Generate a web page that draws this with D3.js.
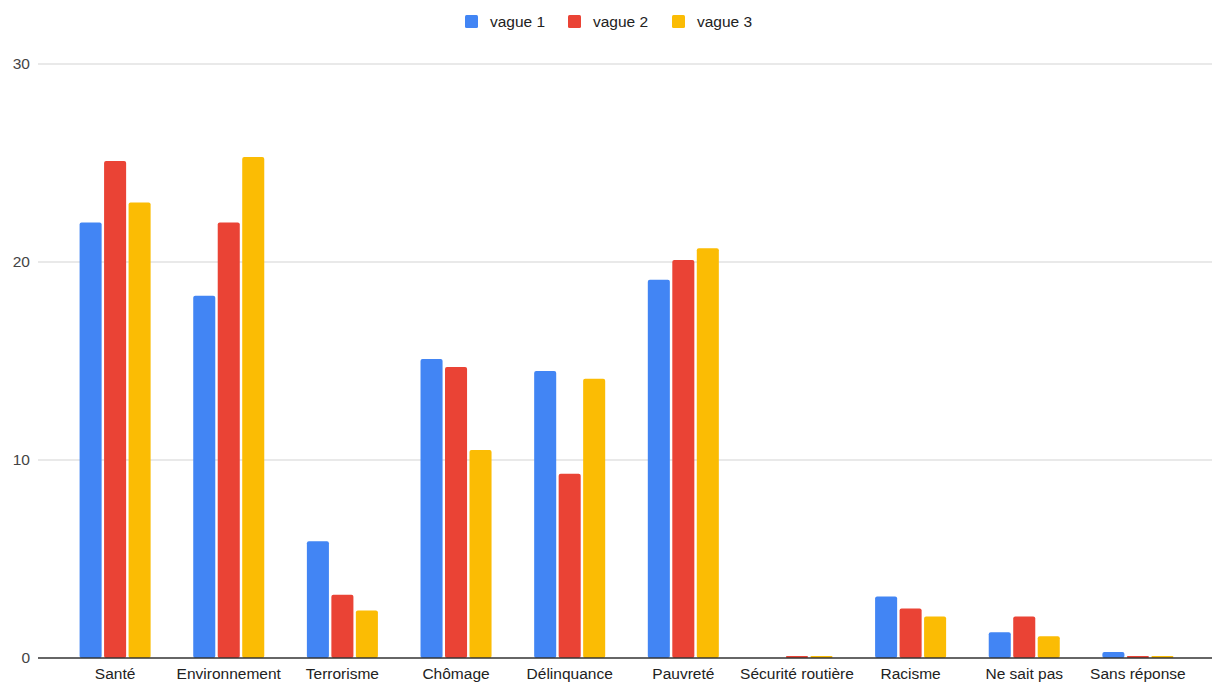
<!DOCTYPE html>
<html><head><meta charset="utf-8">
<script src="https://cdn.jsdelivr.net/npm/d3@7"></script>
<style>body{margin:0;background:#fff;font-family:"Liberation Sans",Arial,sans-serif}</style>
</head><body><svg id="c" width="1214" height="682"></svg>
<script>
const categories = ["Santé","Environnement","Terrorisme","Chômage","Délinquance","Pauvreté","Sécurité routière","Racisme","Ne sait pas","Sans réponse"];
const seriesNames = ["vague 1","vague 2","vague 3"];
const vague1 = [22, 18.3, 5.9, 15.1, 14.5, 19.1, 0, 3.1, 1.3, 0.3];
const vague2 = [25.1, 22, 3.2, 14.7, 9.3, 20.1, 0.1, 2.5, 2.1, 0.1];
const vague3 = [23, 25.3, 2.4, 10.5, 14.1, 20.7, 0.1, 2.1, 1.1, 0.1];
const yTicks = [0, 10, 20, 30];
const colors = ["#4285F4", "#EA4335", "#FBBC04"];
const series = [vague1, vague2, vague3];

const svg = d3.select("#c");
const x = d3.scaleBand().domain(categories).range([58, 1195]).paddingInner(0.375).paddingOuter(0.19);
const xs = d3.scaleBand().domain(seriesNames).range([0, x.bandwidth()]).paddingInner(0.1);
const y = d3.scaleLinear().domain([0, 30]).range([658, 64]);

// grid
svg.append("g").selectAll("line").data(yTicks.filter(d => d > 0)).join("line")
  .attr("x1", 38).attr("x2", 1212).attr("y1", d => y(d)).attr("y2", d => y(d))
  .attr("stroke", "#d3d3d3").attr("stroke-width", 1);

// y labels
svg.append("g").selectAll("text").data(yTicks).join("text")
  .attr("x", 30).attr("y", d => y(d)).attr("dy", "0.35em").attr("text-anchor", "end")
  .attr("font-size", 15.5).attr("fill", "#444").text(d => d);

// bars
categories.forEach((c, i) => {
  series.forEach((s, j) => {
    const v = s[i];
    if (v <= 0) return;
    const h = y(0) - y(v);
    svg.append("rect")
      .attr("x", x(c) + xs(seriesNames[j])).attr("y", y(v))
      .attr("width", xs.bandwidth()).attr("height", h)
      .attr("rx", Math.min(2, h / 2)).attr("fill", colors[j]);
  });
});

// baseline
svg.append("line").attr("x1", 38).attr("x2", 1212).attr("y1", y(0)).attr("y2", y(0))
  .attr("stroke", "#333").attr("stroke-width", 1.5);

// x labels
svg.append("g").selectAll("text").data(categories).join("text")
  .attr("x", d => x(d) + x.bandwidth() / 2).attr("y", 679).attr("text-anchor", "middle")
  .attr("font-size", 15.5).attr("fill", "#222").text(d => d);

// legend
const legX = [465, 568, 672];
const lg = svg.append("g").selectAll("g").data(seriesNames).join("g")
  .attr("transform", (d, i) => `translate(${legX[i]},15)`);
lg.append("rect").attr("width", 13).attr("height", 13).attr("rx", 1.5).attr("fill", (d, i) => colors[i]);
lg.append("text").attr("x", 25).attr("y", 6.5).attr("dy", "0.35em").attr("font-size", 15.5).attr("fill", "#222").text(d => d);
</script></body></html>
